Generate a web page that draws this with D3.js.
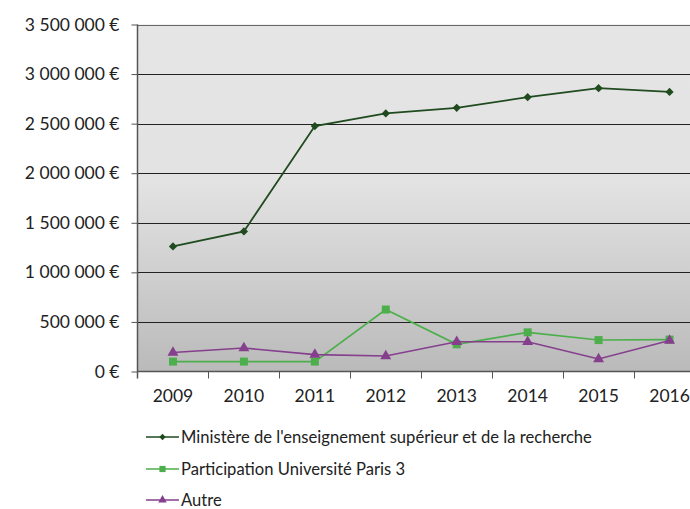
<!DOCTYPE html>
<html>
	<head>
		<meta charset="utf-8">
		<title>Financement</title>
		<style>
			body { margin: 0; background: #fff; }
			svg { display: block; }
			text { font-family: "Lato", "DejaVu Sans", sans-serif; fill: #222; }
		</style>
	</head>
	<body>
		<svg></svg>
		<script src="https://d3js.org/d3.v7.min.js"></script>
		<script>
			// data
			var years = ["2009", "2010", "2011", "2012", "2013", "2014", "2015", "2016"]
			var ministere = [1262000, 1413000, 2475000, 2603000, 2660000, 2767000, 2858000, 2820000]
			var paris3 = [100000, 100000, 100000, 625000, 274000, 395000, 317000, 322000]
			var autre = [192000, 237000, 170000, 156000, 300000, 300000, 126000, 312000]
			var yTicks = [0, 500000, 1000000, 1500000, 2000000, 2500000, 3000000, 3500000]
			var seriesNames = ["Ministère de l'enseignement supérieur et de la recherche", "Participation Université Paris 3", "Autre"]

			// init vars
			var _width = 690
			var _height = 509
			var _svg = d3.select("svg").attr("width", _width).attr("height", _height)

			var plotLeft = 137.5, plotRight = 705, plotTop = 24.5, plotBottom = 371.5

			var x = d3.scaleBand().domain(years).range([plotLeft, plotRight]).padding(0)
			var y = d3.scaleLinear().domain([0, 3500000]).range([plotBottom, plotTop])

			// background gradient
			var grad = _svg.append("defs").append("linearGradient")
				.attr("id", "bg").attr("x1", 0).attr("y1", 0).attr("x2", 0).attr("y2", 1)
			grad.append("stop").attr("offset", "0%").attr("stop-color", "#e5e5e5")
			grad.append("stop").attr("offset", "45%").attr("stop-color", "#e3e3e3")
			grad.append("stop").attr("offset", "100%").attr("stop-color", "#bababa")

			_svg.append("rect")
				.attr("x", plotLeft).attr("y", plotTop)
				.attr("width", plotRight - plotLeft).attr("height", plotBottom - plotTop)
				.attr("fill", "url(#bg)")

			// gridlines
			_svg.append("g").selectAll("line").data(yTicks.slice(1)).join("line")
				.attr("x1", plotLeft).attr("x2", plotRight)
				.attr("y1", function(d) { return Math.round(y(d)) + 0.5 })
				.attr("y2", function(d) { return Math.round(y(d)) + 0.5 })
				.attr("stroke", function(d) { return d == 3500000 ? "#666" : "#222" })
				.attr("stroke-width", 1)

			// y axis
			var fmt = d3.format(",")
			var yAxis = _svg.append("g")
				.attr("transform", "translate(" + plotLeft + ",0)")
				.call(d3.axisLeft(y).tickValues(yTicks).tickSize(6).tickPadding(12)
					.tickFormat(function(d) { return fmt(d).replace(/,/g, " ") + " €" }))
			yAxis.select(".domain").remove()
			yAxis.selectAll("line").attr("stroke", "#555")
			yAxis.selectAll("text").style("font-size", "17.5px").attr("fill", "#222")

			// left axis line
			_svg.append("line")
				.attr("x1", plotLeft).attr("x2", plotLeft).attr("y1", plotTop).attr("y2", plotBottom + 7)
				.attr("stroke", "#555").attr("stroke-width", 1.5)

			// x axis
			_svg.append("line")
				.attr("x1", plotLeft).attr("x2", plotRight).attr("y1", plotBottom).attr("y2", plotBottom)
				.attr("stroke", "#555").attr("stroke-width", 1.5)
			_svg.append("g").selectAll("line").data(years.slice(1)).join("line")
				.attr("x1", function(d) { return Math.round(x(d)) + 0.5 })
				.attr("x2", function(d) { return Math.round(x(d)) + 0.5 })
				.attr("y1", plotBottom).attr("y2", plotBottom + 7)
				.attr("stroke", "#555")
			var xAxis = _svg.append("g")
				.attr("transform", "translate(0," + plotBottom + ")")
				.call(d3.axisBottom(x).tickSize(0).tickPadding(18))
			xAxis.select(".domain").remove()
			xAxis.selectAll("text").style("font-size", "17.5px").attr("fill", "#222")

			// series (diamond = square turned 45 degrees)
			var series = [
				{ name: seriesNames[0], values: ministere, color: "#1f4b1f", symbol: d3.symbolSquare, size: 34, rot: 45, width: 1.8 },
				{ name: seriesNames[1], values: paris3, color: "#4caf4c", symbol: d3.symbolSquare, size: 64, rot: 0, width: 1.6 },
				{ name: seriesNames[2], values: autre, color: "#853f8d", symbol: d3.symbolTriangle, size: 52, rot: 0, width: 1.6 }
			]

			var line = d3.line()
				.x(function(d, i) { return x(years[i]) + x.bandwidth() / 2 })
				.y(function(d) { return y(d) })

			series.forEach(function(s) {
				var g = _svg.append("g")
				g.append("path")
					.attr("d", line(s.values))
					.attr("fill", "none")
					.attr("stroke", s.color)
					.attr("stroke-width", s.width)
				g.selectAll("path.pt").data(s.values).join("path")
					.attr("class", "pt")
					.attr("d", d3.symbol().type(s.symbol).size(s.size))
					.attr("transform", function(d, i) {
						return "translate(" + (x(years[i]) + x.bandwidth() / 2) + "," + y(d) + ") rotate(" + s.rot + ")"
					})
					.attr("fill", s.color)
			})

			// legend
			var legendY = [437, 469, 500]
			series.forEach(function(s, i) {
				var g = _svg.append("g").attr("transform", "translate(0," + legendY[i] + ")")
				g.append("line").attr("x1", 146).attr("x2", 179).attr("y1", 0).attr("y2", 0)
					.attr("stroke", s.color).attr("stroke-width", 1.6)
				g.append("path")
					.attr("d", d3.symbol().type(s.symbol).size(s.size * 0.6))
					.attr("transform", "translate(162.5,0) rotate(" + s.rot + ")")
					.attr("fill", s.color)
				g.append("text").attr("x", 181).attr("y", 0).attr("dy", "0.35em")
					.style("font-size", "16.6px").text(s.name)
			})
		</script>
	</body>
</html>
